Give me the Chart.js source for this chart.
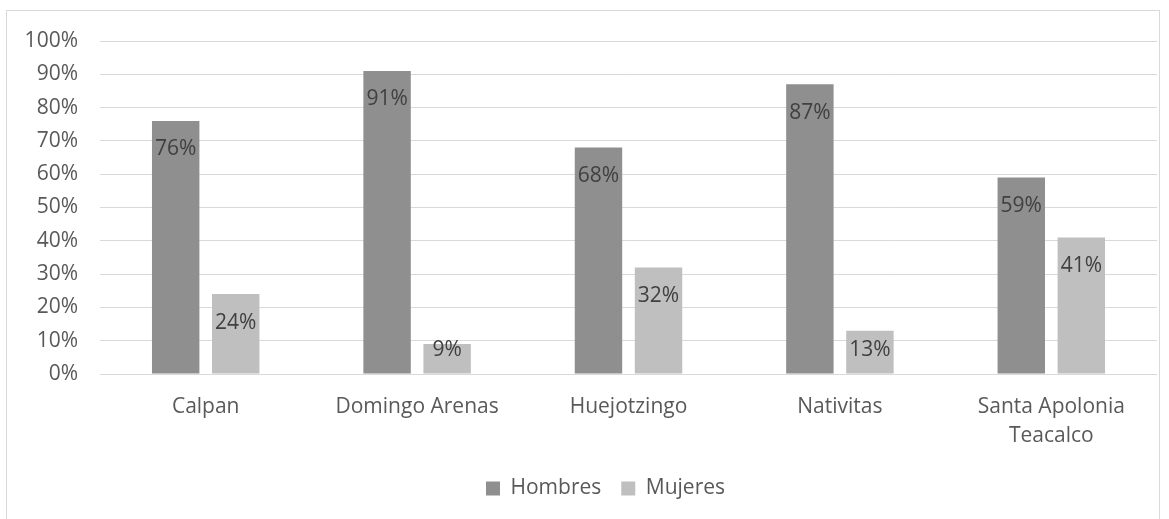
<!DOCTYPE html>
<html lang="es">
<head>
  <meta charset="UTF-8" />
  <title>Hombres y Mujeres por municipio</title>
  <script src="https://cdn.jsdelivr.net/npm/chart.js"></script>
  <style>
    html, body {
      margin: 0;
      padding: 0;
      background: #ffffff;
      overflow: hidden;
    }

    #frame {
      position: absolute;
      left: 6px;
      top: 10px;
      width: 1154px;
      height: 530px;
      border: 1px solid #d9d9d9;
      box-sizing: border-box;
    }

    #chartContainer {
      position: absolute;
      left: 0;
      top: 0;
      width: 1169px;
      height: 519px;
    }
  </style>
</head>
<body>
  <div id="frame"></div>
  <div id="chartContainer">
    <canvas id="barChart"></canvas>
  </div>

  <script>
    const categories = [
      "Calpan",
      "Domingo Arenas",
      "Huejotzingo",
      "Nativitas",
      ["Santa Apolonia", "Teacalco"]
    ];
    const hombres = [76, 91, 68, 87, 59];
    const mujeres = [24, 9, 32, 13, 41];
    const yTicks = [0, 10, 20, 30, 40, 50, 60, 70, 80, 90, 100];

    const FONT = "'Open Sans', 'DejaVu Sans', sans-serif";

    // labels sit just inside the top of each bar, pushed up for short bars
    const barLabels = {
      id: "barLabels",
      afterDatasetsDraw(chart) {
        const ctx = chart.ctx;
        ctx.save();
        ctx.font = "21px " + FONT;
        ctx.fillStyle = "#404040";
        ctx.textAlign = "center";
        ctx.textBaseline = "middle";
        chart.data.datasets.forEach((ds, di) => {
          chart.getDatasetMeta(di).data.forEach((bar, i) => {
            const y = Math.min(bar.y + 28.5, bar.base - 23.5);
            ctx.fillText(ds.data[i] + "%", bar.x, y);
          });
        });
        ctx.restore();
      }
    };

    // the legend in the original sits a bit right of the canvas centre
    const nudgeLegend = {
      id: "nudgeLegend",
      afterLayout(chart) {
        chart.legend.left += 27;
        chart.legend.right += 27;
      }
    };

    const ctx = document.getElementById("barChart").getContext("2d");
    new Chart(ctx, {
      type: "bar",
      data: {
        labels: categories,
        datasets: [
          {
            label: "Hombres",
            data: hombres,
            backgroundColor: "#8f8f8f",
            categoryPercentage: 0.568,
            barPercentage: 0.79
          },
          {
            label: "Mujeres",
            data: mujeres,
            backgroundColor: "#bfbfbf",
            categoryPercentage: 0.568,
            barPercentage: 0.79
          }
        ]
      },
      options: {
        responsive: true,
        maintainAspectRatio: false,
        animation: false,
        layout: {
          padding: { left: 0, right: 12, top: 41, bottom: 10 }
        },
        scales: {
          x: {
            grid: { display: false },
            border: { display: false },
            ticks: {
              color: "#595959",
              font: { family: FONT, size: 21, lineHeight: 1.38 },
              padding: 11,
              maxRotation: 0,
              autoSkip: false
            },
            afterFit(scale) { scale.height = 84; }
          },
          y: {
            min: 0,
            max: 100,
            afterBuildTicks(scale) {
              scale.ticks = yTicks.map(v => ({ value: v }));
            },
            grid: { color: "#d9d9d9", lineWidth: 1, drawTicks: false },
            border: { display: false },
            ticks: {
              color: "#595959",
              font: { family: FONT, size: 21 },
              padding: 22,
              callback: v => v + "%"
            },
            afterFit(scale) { scale.width = 100; }
          }
        },
        plugins: {
          legend: {
            position: "bottom",
            labels: {
              color: "#595959",
              font: { family: FONT, size: 21 },
              boxWidth: 14,
              boxHeight: 14,
              padding: 20
            }
          },
          tooltip: { enabled: false }
        }
      },
      plugins: [barLabels, nudgeLegend]
    });
  </script>
</body>
</html>
